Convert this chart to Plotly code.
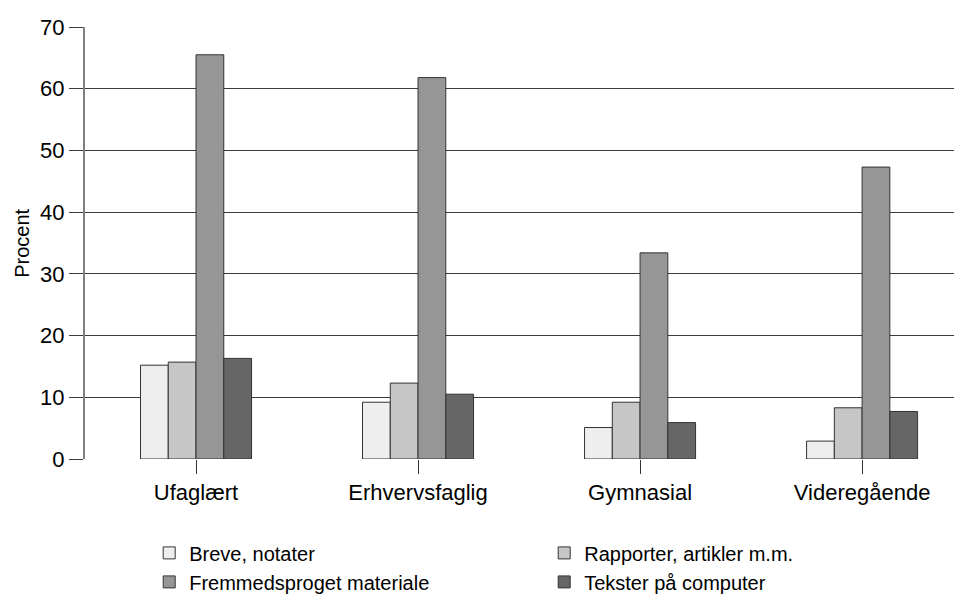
import plotly.graph_objects as go

# Educational level groups
categories = ['Ufaglært', 'Erhvervsfaglig', 'Gymnasial', 'Videregående']

# Series (percent)
series_names = ['Breve, notater', 'Rapporter, artikler m.m.',
                'Fremmedsproget materiale', 'Tekster på computer']
breve = [15.2, 9.2, 5.1, 2.9]
rapporter = [15.7, 12.3, 9.2, 8.3]
fremmedsproget = [65.5, 61.8, 33.4, 47.3]
tekster = [16.3, 10.5, 5.9, 7.7]

y_ticks = [0, 10, 20, 30, 40, 50, 60, 70]

colors = ['#eeeeee', '#c6c6c6', '#969696', '#666666']
series_values = [breve, rapporter, fremmedsproget, tekster]

fig = go.Figure()

for name, vals, col in zip(series_names, series_values, colors):
    fig.add_trace(go.Bar(
        name=name,
        x=categories,
        y=vals,
        marker=dict(color=col, line=dict(color='#333333', width=1)),
    ))

# y-axis title placed as a rotated annotation, close to the page edge
fig.add_annotation(
    text='Procent',
    xref='paper', yref='paper',
    x=-0.072, y=0.5,
    xanchor='center', yanchor='middle',
    textangle=-90,
    showarrow=False,
    borderpad=0,
    font=dict(size=20),
)

# page body adds an 8px offset, so the figure is sized to 954x591
fig.update_layout(
    width=954,
    height=591,
    margin=dict(l=77, r=0, t=19, b=140, autoexpand=False),
    plot_bgcolor='white',
    paper_bgcolor='white',
    font=dict(family='Liberation Sans, Arial, sans-serif', size=22, color='black'),
    barmode='group',
    bargap=0.5,
    bargroupgap=0,
    showlegend=True,
    legend=dict(
        orientation='h',
        xref='container', yref='container',
        x=0.148, y=0.111,
        xanchor='left', yanchor='top',
        entrywidth=350,
        entrywidthmode='pixels',
        font=dict(size=20),
        traceorder='normal',
    ),
    xaxis=dict(
        range=[-0.5, 3.45],
        showgrid=False,
        showline=False,
        ticks='outside',
        ticklen=14,
        tickcolor='#333333',
        tickwidth=1,
        tickfont=dict(size=22),
        automargin=False,
    ),
    yaxis=dict(
        range=[0, 70],
        tickvals=y_ticks,
        showgrid=True,
        gridcolor='#3a3a3a',
        gridwidth=1,
        zeroline=False,
        showline=True,
        linecolor='#808080',
        linewidth=2,
        ticks='outside',
        ticklen=14,
        tickcolor='#3a3a3a',
        tickfont=dict(size=22),
        automargin=False,
    ),
)

fig.write_html('out.html')
